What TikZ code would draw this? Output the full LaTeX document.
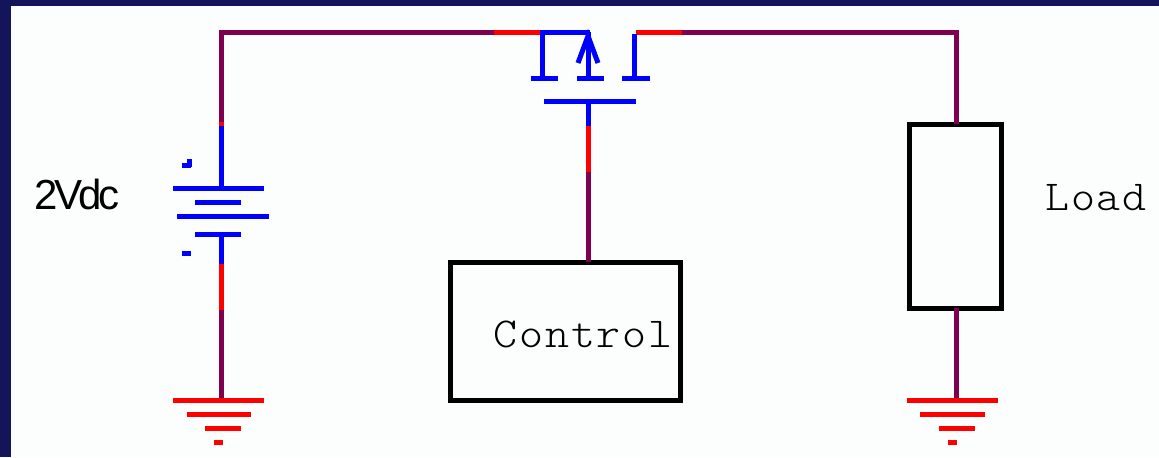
\documentclass[tikz,border=0pt]{standalone}
\usepackage{fontspec}
\usepackage{tikz}
\newfontfamily\voltfont{Liberation Sans}[LetterSpace=-8]
\newfontfamily\labelfont{Latin Modern Mono Light}[LetterSpace=4]
\definecolor{framenavy}{HTML}{14145A}
\definecolor{paper}{HTML}{FCFEFE}
\definecolor{wirepurple}{HTML}{800050}
\tikzset{
	wire/.style={line width=3.75pt, wirepurple},
	hotwire/.style={line width=3.75pt, red},
	part/.style={line width=3.75pt, blue},
	earth/.style={line width=3.75pt, red},
	box/.style={draw=black, line width=3.75pt, outer sep=0pt, inner sep=0pt},
	monotext/.style={anchor=base, xscale=1.07, font=\labelfont\fontsize{32pt}{32pt}\selectfont},
}
\begin{document}
\begin{tikzpicture}[x=0.75pt, y=-0.75pt]
	\useasboundingbox (0, 0) rectangle (1159, 457);
	\fill[framenavy] (0, 0) rectangle (1159, 457);
	\fill[paper] (11, 6) rectangle (1159, 457);

	\node[box, minimum width=172.5pt, minimum height=103.5pt] (control) at (565, 331) {};
	\node[box, minimum width=69pt, minimum height=138pt] (load) at (955.5, 216) {};
	\node[monotext] (controlText) at (583, 347) {Control};
	\node[monotext] (loadText) at (1096, 210) {Load};
	\node[anchor=base, font=\voltfont\fontsize{31.5pt}{32pt}\selectfont] (voltText) at (77, 209) {2Vdc};

	\coordinate (topLeft) at (221, 32);
	\coordinate (topRight) at (956, 32);
	\coordinate (srcPurple) at (494, 32);
	\coordinate (srcEnd) at (540, 32);
	\coordinate (drnStart) at (636, 32);
	\coordinate (drnPurple) at (682, 32);
	\coordinate (batRed) at (221, 122);
	\coordinate (batIn) at (221, 126);
	\coordinate (batOut) at (221, 264);
	\coordinate (batLow) at (221, 310);
	\coordinate (gndLeft) at (221, 400);
	\coordinate (gndRight) at (956, 400);
	\coordinate (gate) at (588, 101);
	\coordinate (gateBlue) at (588, 126);
	\coordinate (gateRed) at (588, 172);
	\coordinate (chanTop) at (588, 32);
	\coordinate (chanLow) at (588, 78);

	% wires
	\draw[wire] (srcPurple) -- (topLeft) -- (batRed);
	\draw[hotwire] (srcPurple) -- (srcEnd);
	\draw[hotwire] (batRed) -- (batIn);
	\draw[hotwire] (batOut) -- (batLow);
	\draw[wire] (batLow) -- (gndLeft);
	\draw[hotwire] (drnStart) -- (drnPurple);
	\draw[wire] (drnPurple) -- (topRight) -- (load.north -| topRight);
	\draw[wire] (load.south -| topRight) -- (gndRight);
	\draw[hotwire] (gateBlue) -- (gateRed);
	\draw[wire] (gateRed) -- (control.north -| gateRed);

	% transistor
	\draw[part] (544, 32) -- (590, 32);
	\draw[part] (542, 30) -- (542, 78);
	\draw[part] (634, 34) -- (634, 78);
	\draw[part] (531, 78) -- (558, 78);
	\draw[part] (577, 78) -- (604, 78);
	\draw[part] (622, 78) -- (650, 78);
	\draw[part] (chanLow) -- (chanTop);
	\draw[part, line join=miter] (578, 63) -- (588, 36) -- (598, 63);
	\draw[part] (544, 101) -- (636, 101);
	\draw[part] (gate) -- (gateBlue);

	% battery
	\draw[part] (batIn) -- (221, 188);
	\draw[part] (173, 188) -- (264, 188);
	\draw[part] (195, 202) -- (241, 202);
	\draw[part] (177, 216) -- (269, 216);
	\draw[part] (195, 234) -- (241, 234);
	\draw[part] (221, 234) -- (batOut);
	\draw[part] (182, 165) -- (191, 165);
	\draw[part] (189, 159) -- (189, 167);
	\draw[part] (182, 253) -- (191, 253);

	% grounds
	\draw[earth] (173, 400) -- (264, 400);
	\draw[earth] (187, 414) -- (251, 414);
	\draw[earth] (205, 428) -- (241, 428);
	\draw[earth] (214, 442) -- (223, 442);
	\draw[earth] (907, 400) -- (998, 400);
	\draw[earth] (920, 414) -- (985, 414);
	\draw[earth] (939, 428) -- (975, 428);
	\draw[earth] (948, 442) -- (957, 442);
\end{tikzpicture}
\end{document}
